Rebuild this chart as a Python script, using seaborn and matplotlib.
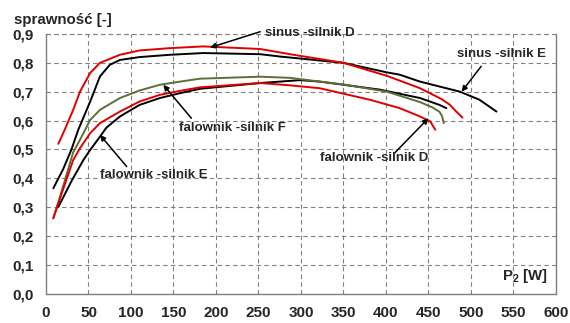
import matplotlib
matplotlib.use("Agg")
import matplotlib.pyplot as plt
import seaborn as sns
import pandas as pd

# ---- data ----
sinus_D_P = [14.5, 22, 32, 40, 52, 63.5, 87, 110, 146, 185, 252, 287, 350, 401, 440, 465, 475, 483, 490]
sinus_D_eff = [0.519, 0.568, 0.637, 0.70, 0.765, 0.80, 0.828, 0.843, 0.851, 0.857, 0.848, 0.83, 0.80, 0.755, 0.712, 0.675, 0.655, 0.63, 0.61]

sinus_E_P = [8.6, 20, 30, 38, 52, 63.5, 75, 87, 110, 146, 185, 252, 275, 350, 401, 416, 440, 487, 510, 530]
sinus_E_eff = [0.365, 0.43, 0.50, 0.568, 0.666, 0.753, 0.793, 0.81, 0.82, 0.828, 0.834, 0.83, 0.822, 0.80, 0.767, 0.759, 0.735, 0.70, 0.672, 0.631]

fal_F_P = [8.6, 20, 32, 40, 52, 63.5, 87, 110, 134, 158, 181, 252, 287, 322, 350, 401, 440, 455, 463, 466, 468]
fal_F_eff = [0.261, 0.37, 0.49, 0.533, 0.602, 0.637, 0.678, 0.704, 0.724, 0.735, 0.745, 0.752, 0.748, 0.735, 0.725, 0.70, 0.664, 0.645, 0.63, 0.615, 0.591]

fal_E_P = [14.5, 30, 44, 52, 63.5, 71, 87, 110, 134, 158, 181, 252, 299, 322, 393, 440, 463, 471]
fal_E_eff = [0.30, 0.39, 0.463, 0.498, 0.544, 0.575, 0.614, 0.654, 0.678, 0.695, 0.71, 0.73, 0.74, 0.735, 0.707, 0.678, 0.654, 0.643]

fal_D_P = [8.6, 20, 32, 40, 52, 63.5, 87, 110, 134, 158, 181, 252, 287, 322, 381, 416, 440, 452, 458]
fal_D_eff = [0.261, 0.36, 0.463, 0.504, 0.556, 0.591, 0.631, 0.666, 0.689, 0.703, 0.715, 0.73, 0.722, 0.712, 0.672, 0.643, 0.614, 0.597, 0.568]

x_ticks = list(range(0, 601, 50))
y_ticks = [i / 10 for i in range(10)]
y_tick_labels = [f"{v:.1f}".replace(".", ",") for v in y_ticks]

RED = "#e00000"
GREEN = "#5b7035"
BLACK = "#000000"

sns.set_style("white")
plt.rcParams["font.family"] = ["Liberation Sans", "DejaVu Sans"]
plt.rcParams["mathtext.fontset"] = "custom"
plt.rcParams["mathtext.rm"] = "Liberation Sans:bold"
plt.rcParams["mathtext.bf"] = "Liberation Sans:bold"

fig = plt.figure(figsize=(5.7, 3.23), dpi=100)
ax = fig.add_axes([0.0807, 0.0913, 0.8947, 0.8034])

series = [
    (sinus_E_P, sinus_E_eff, BLACK),
    (fal_E_P, fal_E_eff, BLACK),
    (fal_F_P, fal_F_eff, GREEN),
    (fal_D_P, fal_D_eff, RED),
    (sinus_D_P, sinus_D_eff, RED),
]
for P, eff, col in series:
    df = pd.DataFrame({"P": P, "eff": eff})
    sns.lineplot(data=df, x="P", y="eff", color=col, lw=1.4, sort=False,
                 estimator=None, ax=ax)

ax.set_xlim(0, 600)
ax.set_ylim(0, 0.9)
ax.set_xticks(x_ticks)
ax.set_xticklabels([str(v) for v in x_ticks], fontsize=11, fontweight="bold")
ax.set_yticks(y_ticks)
ax.set_yticklabels(y_tick_labels, fontsize=11, fontweight="bold")
ax.set_xlabel("")
ax.set_ylabel("")
ax.grid(True, color="#808080", linestyle=(0, (4, 3)), lw=0.8)
ax.axhline(0.9, color="#808080", linestyle=(0, (4, 3)), lw=0.8, clip_on=False)
for s in ["left", "bottom", "right"]:
    ax.spines[s].set_color("#808080")
    ax.spines[s].set_linewidth(1.0)
ax.spines["top"].set_visible(False)
ax.tick_params(axis="both", direction="out", length=4, width=1, color="#808080", pad=5)

# labels
fig.text(14 / 570, 1 - 20 / 323, "sprawność [-]", fontsize=10.8, fontweight="bold",
         va="center", ha="left")
ax.text(590, 0.03, r"P$_{2}$ [W]", fontsize=10.8, fontweight="bold",
        ha="right", va="bottom")

ann_kw = dict(fontsize=9.5, fontweight="bold", va="center", ha="left")
arrow = dict(arrowstyle="-|>", color="black", lw=1.1, mutation_scale=8, shrinkA=0, shrinkB=0)

ax.annotate("", xy=(193, 0.853), xytext=(252, 0.908), arrowprops=arrow, annotation_clip=False)
ax.text(258, 0.903, "sinus -silnik D", clip_on=False, **ann_kw)

ax.annotate("", xy=(489, 0.70), xytext=(512, 0.788), arrowprops=arrow)
ax.text(484, 0.832, "sinus -silnik E", **ann_kw)

ax.annotate("", xy=(138, 0.724), xytext=(171, 0.608), arrowprops=arrow)
ax.text(156, 0.574, "falownik -silnik F", **ann_kw)

ax.annotate("", xy=(63.5, 0.55), xytext=(95, 0.44), arrowprops=arrow)
ax.text(63, 0.411, "falownik -silnik E", **ann_kw)

ax.annotate("", xy=(450, 0.608), xytext=(410, 0.487), arrowprops=arrow)
ax.text(322, 0.469, "falownik -silnik D", **ann_kw)

fig.savefig("out.png", dpi=100)
